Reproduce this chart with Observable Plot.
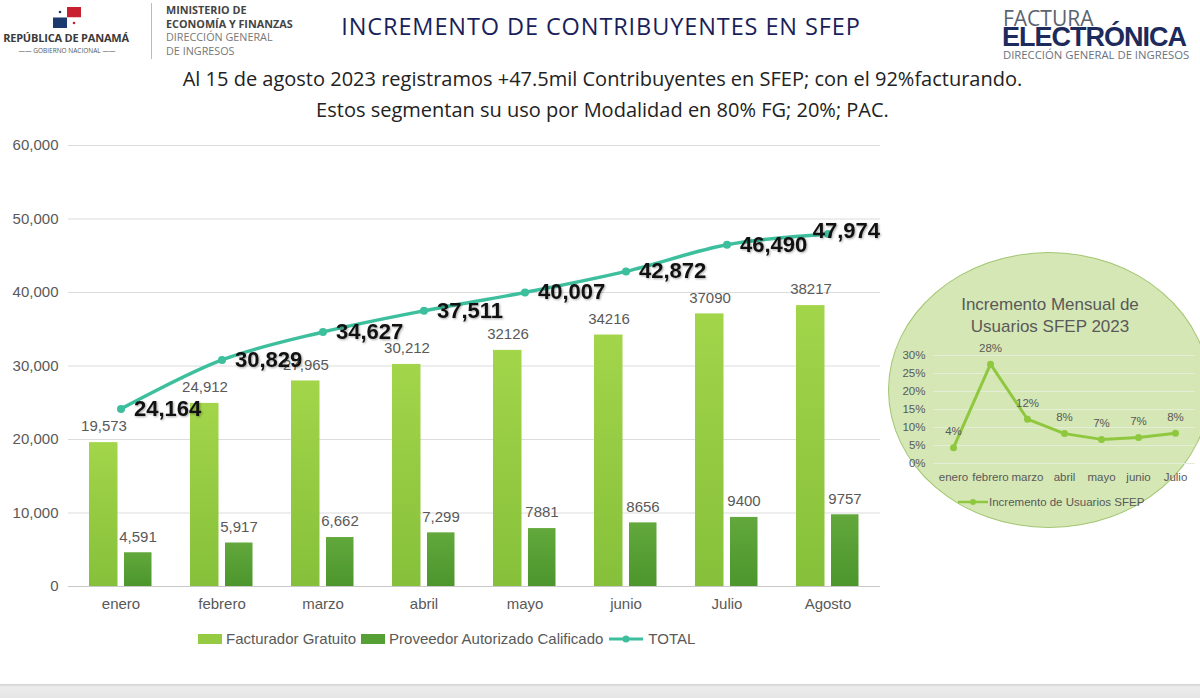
<!DOCTYPE html>
<html>
<head>
<meta charset="utf-8">
<script src="https://cdn.jsdelivr.net/npm/d3@7"></script>
<script src="https://cdn.jsdelivr.net/npm/@observablehq/plot@0.6"></script>
<style>
  html, body { margin: 0; padding: 0; background: #fff; }
  #page { position: relative; width: 1200px; height: 698px; overflow: hidden; background: #fff; font-family: "Liberation Sans", Arial, sans-serif; }
  .abs { position: absolute; }
  #title { left: 0; width: 1202px; top: 10px; text-align: center; font-family: "Open Sans", sans-serif; font-size: 23.5px; color: #1a1f5a; letter-spacing: 0.9px; }
  .sub { left: 0; width: 1205px; text-align: center; font-family: "Open Sans", sans-serif; font-size: 20px; color: #222; letter-spacing: 0px; }
  #legend { top: 630px; left: 198px; font-size: 15px; color: #595959; display: flex; align-items: center; white-space: nowrap; }
  #legend .sw { display: inline-block; width: 24px; height: 10px; margin-right: 4px; }
  #legend .item { display: flex; align-items: center; margin-right: 5px; }
  #ellipse { left: 888px; top: 252px; width: 322px; height: 276px; border-radius: 50%; background: #d5e7b5; border: 1.5px solid #a2c672; box-sizing: border-box; }
  #insetTitle { left: 900px; width: 300px; top: 294px; text-align: center; font-size: 17px; line-height: 22px; color: #595959; }
  #insetLegend { left: 958px; top: 496px; font-size: 11.5px; color: #595959; display: flex; align-items: center; }
  #footer { left: 0; top: 684px; width: 1200px; height: 14px; background: linear-gradient(#d2d2d2, #ececec 3px, #e6e6e6); }
  g[font-weight="bold"] { filter: drop-shadow(1px 1px 1px rgba(0,0,0,0.35)); }
</style>
</head>
<body>
<svg width="0" height="0" style="position:absolute">
  <defs>
    <linearGradient id="gFG" x1="0" y1="0" x2="0" y2="1">
      <stop offset="0" stop-color="#a2d54a"/>
      <stop offset="1" stop-color="#86c03a"/>
    </linearGradient>
    <linearGradient id="gPAC" x1="0" y1="0" x2="0" y2="1">
      <stop offset="0" stop-color="#62a83c"/>
      <stop offset="1" stop-color="#4c962d"/>
    </linearGradient>
  </defs>
</svg>
<div id="page">
  <!-- left logo -->
  <svg class="abs" style="left:53px;top:7px" width="28" height="21">
    <rect x="0" y="0" width="14" height="10.5" fill="#fff"/>
    <rect x="14" y="0" width="14" height="10.5" fill="#c8202f"/>
    <rect x="0" y="10.5" width="14" height="10.5" fill="#1c3a6e"/>
    <rect x="14" y="10.5" width="14" height="10.5" fill="#fff"/>
    <circle cx="7" cy="5" r="1.3" fill="#1c3a6e"/>
    <circle cx="21" cy="16" r="1.3" fill="#c8202f"/>
  </svg>
  <div class="abs" style="left:-2px;top:30px;width:136px;text-align:center;font-family:'Open Sans',sans-serif;font-weight:700;font-size:11px;color:#3a3a3a;letter-spacing:-0.2px;">REPÚBLICA DE PANAMÁ</div>
  <div class="abs" style="left:0;top:46px;width:134px;text-align:center;font-family:'Open Sans',sans-serif;font-size:6.5px;color:#555;">—— GOBIERNO NACIONAL ——</div>
  <div class="abs" style="left:151px;top:3px;width:1px;height:56px;background:#bbb;"></div>
  <div class="abs" style="left:166px;top:3px;font-family:'Open Sans',sans-serif;font-size:10.8px;line-height:13.5px;color:#444;">
    <div style="font-weight:700">MINISTERIO DE</div>
    <div style="font-weight:700">ECONOMÍA Y FINANZAS</div>
    <div style="color:#777">DIRECCIÓN GENERAL</div>
    <div style="color:#777">DE INGRESOS</div>
  </div>
  <!-- right logo -->
  <div class="abs" style="left:1003px;top:10px;font-family:'Open Sans',sans-serif;font-size:21px;color:#5b6470;line-height:17px;">FACTURA</div>
  <div class="abs" style="left:1002px;top:28px;font-family:'Liberation Sans',Arial,sans-serif;font-weight:700;font-size:27px;color:#1d2a5c;letter-spacing:-1px;line-height:19px;">ELECTRÓNICA</div>
  <div class="abs" style="left:1003px;top:49px;font-family:'Open Sans',sans-serif;font-size:11.3px;color:#6a7280;line-height:12px;">DIRECCIÓN GENERAL DE INGRESOS</div>

  <div id="title" class="abs">INCREMENTO DE CONTRIBUYENTES EN SFEP</div>
  <div class="abs sub" style="top:65px">Al 15 de agosto 2023 registramos +47.5mil Contribuyentes en SFEP; con el 92%facturando.</div>
  <div class="abs sub" style="top:96px">Estos segmentan su uso por Modalidad en 80% FG; 20%; PAC.</div>

  <div id="main" class="abs" style="left:0;top:130px"></div>

  <div id="legend" class="abs">
    <span class="item"><span class="sw" style="background:#94cb42"></span>Facturador Gratuito</span>
    <span class="item"><span class="sw" style="background:#57a035"></span>Proveedor Autorizado Calificado</span>
    <span class="item"><svg width="36" height="10" style="margin-right:4px"><line x1="1" y1="5" x2="35" y2="5" stroke="#3dbf9e" stroke-width="3"/><circle cx="18" cy="5" r="3.5" fill="#3dbf9e"/></svg>TOTAL</span>
  </div>

  <div id="ellipse" class="abs"></div>
  <div id="insetTitle" class="abs">Incremento Mensual de<br>Usuarios SFEP 2023</div>
  <div id="inset" class="abs" style="left:880px;top:340px"></div>
  <div id="insetLegend" class="abs"><svg width="31" height="10"><line x1="0" y1="5" x2="30" y2="5" stroke="#8fc83f" stroke-width="2.5"/><circle cx="15" cy="5" r="3" fill="#8fc83f"/></svg>Incremento de Usuarios SFEP</div>

  <div id="footer" class="abs"></div>
</div>
<script>
// ---- data ----
const months = ["enero", "febrero", "marzo", "abril", "mayo", "junio", "Julio", "Agosto"];
const facturadorGratuito = [19573, 24912, 27965, 30212, 32126, 34216, 37090, 38217];
const proveedorAutorizado = [4591, 5917, 6662, 7299, 7881, 8656, 9400, 9757];
const total = [24164, 30829, 34627, 37511, 40007, 42872, 46490, 47974];
const fgLabels = ["19,573", "24,912", "27,965", "30,212", "32126", "34216", "37090", "38217"];
const pacLabels = ["4,591", "5,917", "6,662", "7,299", "7881", "8656", "9400", "9757"];
const yTicks = [0, 10000, 20000, 30000, 40000, 50000, 60000];

const insetMonths = ["enero", "febrero", "marzo", "abril", "mayo", "junio", "Julio"];
const incremento = [0.044, 0.276, 0.123, 0.083, 0.067, 0.072, 0.084];
const insetTicks = [0, 0.05, 0.10, 0.15, 0.20, 0.25, 0.30];

// ---- tables ----
const fgRows = months.map((m, i) => ({month: m, value: facturadorGratuito[i], label: fgLabels[i]}));
const pacRows = months.map((m, i) => ({month: m, value: proveedorAutorizado[i], label: pacLabels[i]}));
const totalRows = months.map((m, i) => ({month: m, value: total[i]}));
const incRows = insetMonths.map((m, i) => ({month: m, value: incremento[i]}));

const font = "'Liberation Sans', Arial, sans-serif";
const green = "#3dbf9e";

const main = Plot.plot({
  width: 900, height: 495,
  marginLeft: 68, marginRight: 20, marginTop: 15, marginBottom: 39,
  style: {background: "transparent", fontFamily: font, fontSize: "15px", color: "#595959", overflow: "visible"},
  x: {domain: months, padding: 0, tickSize: 0, tickPadding: 12, label: null},
  y: {domain: [0, 60000], ticks: yTicks, tickFormat: d3.format(","), tickSize: 0, tickPadding: 10, label: null},
  marks: [
    Plot.ruleY(yTicks.slice(1), {stroke: "#dcdcdc", strokeWidth: 1}),
    Plot.ruleY([0], {stroke: "#c8c8c8", strokeWidth: 1}),
    Plot.barY(fgRows, {x: "month", y: "value", fill: "url(#gFG)", insetLeft: 19, insetRight: 53.5}),
    Plot.barY(pacRows, {x: "month", y: "value", fill: "url(#gPAC)", insetLeft: 54, insetRight: 19.5}),
    Plot.text(fgRows, {x: "month", y: "value", text: "label", dx: -17, dy: -16, fill: "#595959", fontSize: 15}),
    Plot.text(pacRows, {x: "month", y: "value", text: "label", dx: 17, dy: -16, fill: "#595959", fontSize: 15}),
    Plot.line(totalRows, {x: "month", y: "value", stroke: green, strokeWidth: 3.5, curve: "catmull-rom"}),
    Plot.dot(totalRows, {x: "month", y: "value", r: 4, fill: green}),
    Plot.text(totalRows.slice(0, 7), {x: "month", y: "value", text: d => d3.format(",")(d.value), textAnchor: "start", dx: 13, fontWeight: "bold", fontSize: 22, fill: "#111"}),
    Plot.text(totalRows.slice(7), {x: "month", y: "value", text: d => d3.format(",")(d.value), textAnchor: "end", dx: 52, dy: -3, fontWeight: "bold", fontSize: 22, fill: "#111"})
  ]
});
document.getElementById("main").appendChild(main);

const lime = "#8fc83f";
const inset = Plot.plot({
  width: 320, height: 145,
  marginLeft: 53, marginRight: 5, marginTop: 15, marginBottom: 22,
  style: {background: "transparent", fontFamily: font, fontSize: "11.5px", color: "#595959", overflow: "visible"},
  x: {type: "point", domain: insetMonths, padding: 0.5, tickSize: 0, tickPadding: 9, label: null},
  y: {domain: [0, 0.30], ticks: insetTicks, tickFormat: d3.format(".0%"), tickSize: 0, tickPadding: 8, label: null},
  marks: [
    Plot.ruleY(insetTicks, {stroke: "#e4eed6", strokeWidth: 1}),
    Plot.line(incRows, {x: "month", y: "value", stroke: lime, strokeWidth: 3}),
    Plot.dot(incRows, {x: "month", y: "value", r: 3.5, fill: lime}),
    Plot.text(incRows, {x: "month", y: "value", text: d => d3.format(".0%")(d.value), dy: -16, fill: "#595959", fontSize: 11.5})
  ]
});
document.getElementById("inset").appendChild(inset);
</script>
</body>
</html>
